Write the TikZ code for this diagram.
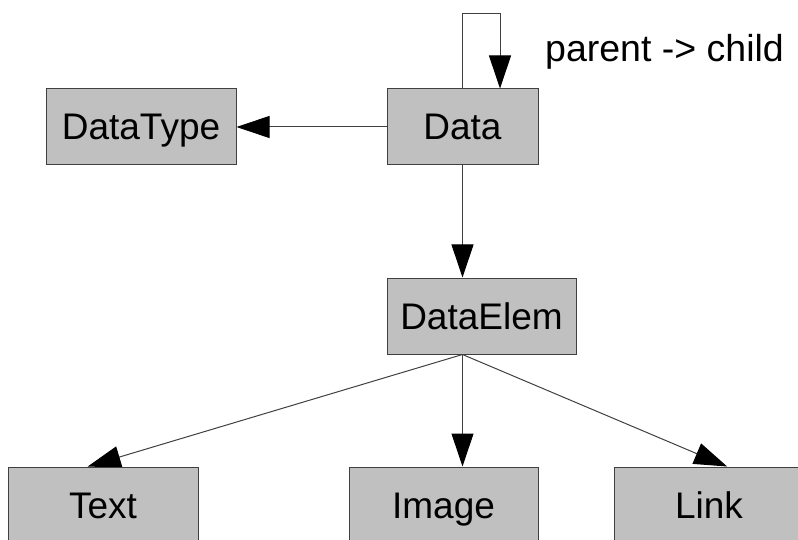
\documentclass[tikz,border=0pt]{standalone}
\usepackage{fontspec}
\setmainfont{Liberation Sans}
\usetikzlibrary{arrows.meta,calc,backgrounds}
\begin{document}
\begin{tikzpicture}[x=1pt,y=-1pt,
  box/.style={draw=black!75, line width=1pt, fill={rgb,255:red,192;green,192;blue,192},
    minimum height=76pt, inner sep=0pt, text height=26pt, text depth=0pt,
    font=\fontsize{37}{41}\selectfont},
  conn/.style={draw=black!75, line width=1pt, -{Triangle[length=33pt,width=22pt,black]}},
  plain/.style={draw=black!75, line width=1pt}]
\useasboundingbox (0,0) rectangle (798,540);
\node[box, minimum width=190pt] (DataType) at (141,127) {DataType};
\node[box, minimum width=151pt] (Data) at (462.5,127) {Data};
\node[box, minimum width=189pt] (DataElem) at (481.5,316) {DataElem};
\node[box, minimum width=190pt] (Text) at (103,505) {Text};
\node[box, minimum width=189pt] (Image) at (443.5,505) {Image};
\node[box, minimum width=190pt] (Link) at (709,505) {Link};
\node[anchor=base west, inner sep=0pt, font=\fontsize{37.5}{41}\selectfont] (label) at (545,62) {parent -> child};
\coordinate (hub) at (Data.south |- DataElem.south);
\begin{scope}[on background layer]
\draw[conn] (Data.west) -- (DataType.east);
\draw[conn] (Data.north) -- ++(0,-75) -| ($(Data.north)+(37.5,0)$);
\draw[conn] (Data.south) -- (Data.south |- DataElem.north);
\draw[conn] (hub) -- ($(Text.north west)!0.42!(Text.north east)$);
\draw[conn] (hub) -- (hub |- Image.north);
\draw[conn] (hub) -- ($(Link.north west)!0.595!(Link.north east)$);
\end{scope}
\end{tikzpicture}
\end{document}
